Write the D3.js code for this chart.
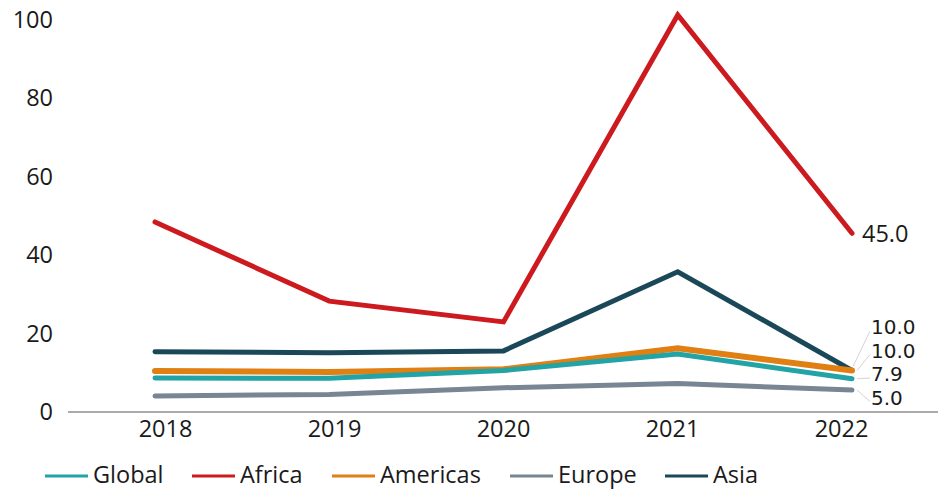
<!DOCTYPE html>
<html>
<head>
<meta charset="utf-8">
<script src="https://cdn.jsdelivr.net/npm/d3@7"></script>
<style>
  body { margin: 0; background: #fff; }
  svg text { font-family: "Open Sans", "Noto Sans", sans-serif; fill: #1a1a1a; }
</style>
</head>
<body>
<div class="graph"></div>
<script>
// data
let years = ["2018", "2019", "2020", "2021", "2022"];
let yTicks = [0, 20, 40, 60, 80, 100];
let global   = [8.1, 8.0, 10.0, 14.2, 7.9];
let africa   = [47.9, 27.7, 22.4, 100.7, 45.0];
let americas = [9.9, 9.6, 10.3, 15.7, 10.0];
let europe   = [3.5, 3.9, 5.6, 6.7, 5.0];
let asia     = [14.8, 14.5, 15.0, 35.2, 10.0];
let endLabels = ["7.9", "45.0", "10.0", "5.0", "10.0"];

let series = [
    {name: "Global", values: global, color: "#22a3a6", label: endLabels[0]},
    {name: "Africa", values: africa, color: "#cc1a1f", label: endLabels[1]},
    {name: "Americas", values: americas, color: "#e07f12", label: endLabels[2]},
    {name: "Europe", values: europe, color: "#788593", label: endLabels[3]},
    {name: "Asia", values: asia, color: "#1b4858", label: endLabels[4]}
];

let width = 946, height = 490;
let fs = "23.5px";

let svg = d3.select(".graph").append("svg")
    .attr("width", width)
    .attr("height", height);

let x = d3.scalePoint().domain(years).range([155, 852]);
// tick labels sit slightly inside the points in the original
let xLab = d3.scalePoint().domain(years).range([165, 841]);
let y = d3.scaleLinear().domain([0, 100]).range([409.7, 17.7]);

// Y axis labels (no line)
svg.append("g")
    .attr("transform", "translate(53,0)")
    .call(d3.axisLeft(y).tickValues(yTicks).tickSize(0).tickPadding(0))
    .call(g => g.select(".domain").remove())
    .selectAll("text")
    .attr("dy", "0.42em")
    .style("font-size", fs);

// X axis baseline
svg.append("line")
    .attr("x1", 68).attr("x2", 938)
    .attr("y1", 412).attr("y2", 412)
    .attr("stroke", "#8f8f8f")
    .attr("stroke-width", 1.5);

svg.append("g")
    .attr("transform", "translate(0,412)")
    .call(d3.axisBottom(xLab).tickSize(0).tickPadding(8))
    .call(g => g.select(".domain").remove())
    .selectAll("text")
    .style("font-size", fs);

let line = d3.line()
    .x((d, i) => x(years[i]))
    .y(d => y(d));

// draw order so overlaps look like the original
let drawOrder = ["Asia", "Europe", "Africa", "Americas", "Global"];
drawOrder.forEach(function (name) {
    let s = series.find(d => d.name === name);
    svg.append("path")
        .datum(s.values)
        .attr("fill", "none")
        .attr("stroke", s.color)
        .attr("stroke-width", name === "Americas" ? 6 : 5)
        .attr("stroke-linejoin", "miter")
        .attr("stroke-linecap", "round")
        .attr("d", line);
});

// end labels
let last = years.length - 1;
let africaS = series[1];
svg.append("text")
    .attr("x", x(years[last]) + 10)
    .attr("y", y(africaS.values[last]))
    .attr("dy", "0.35em")
    .style("font-size", fs)
    .text(africaS.label);

// stacked labels with leader lines (tighter font so they don't collide)
let stacked = [
    {s: series[4], ly: 327},
    {s: series[2], ly: 350.5},
    {s: series[0], ly: 374},
    {s: series[3], ly: 397.5}
];
stacked.forEach(function (d, i) {
    let px = x(years[last]), py = y(d.s.values[last]);
    svg.append("line")
        .attr("x1", px + (i === 0 ? 1 : 5)).attr("y1", py + (i === 0 ? -4 : 0))
        .attr("x2", 870).attr("y2", d.ly + 4)
        .attr("stroke", "#d4d4d4")
        .attr("stroke-width", 1);
    svg.append("text")
        .attr("x", 871)
        .attr("y", d.ly)
        .attr("dy", "0.36em")
        .style("font-family", "'DejaVu Sans', sans-serif")
        .style("font-size", "20px")
        .text(d.s.label);
});

// legend (baseline kept high enough that the text box stays inside the page)
let legendX = [45, 192, 332, 510, 665];
let legend = svg.append("g");
series.forEach(function (s, i) {
    legend.append("line")
        .attr("x1", legendX[i]).attr("x2", legendX[i] + 43)
        .attr("y1", 476).attr("y2", 476)
        .attr("stroke", s.color)
        .attr("stroke-width", 3);
    legend.append("text")
        .attr("x", legendX[i] + 48)
        .attr("y", 482.5)
        .style("font-size", fs)
        .text(s.name);
});
</script>
</body>
</html>
